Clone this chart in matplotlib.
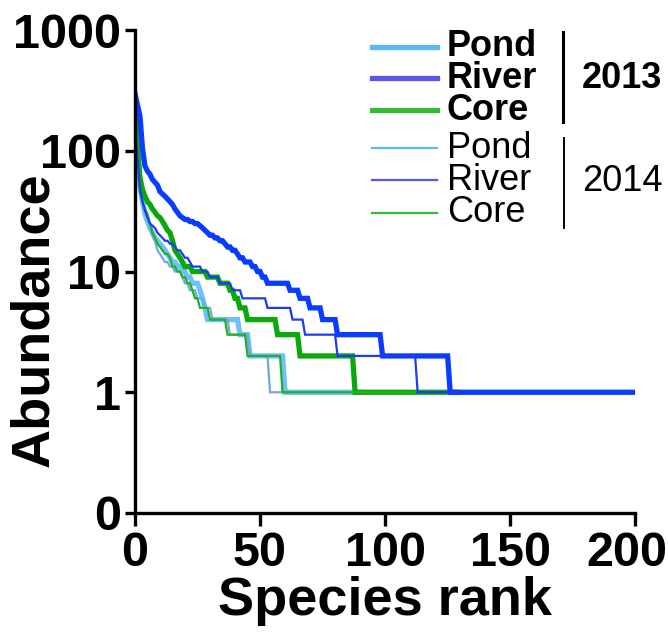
import numpy as np
import matplotlib.pyplot as plt
from matplotlib.lines import Line2D
from matplotlib.transforms import ScaledTranslation

plt.rcParams['font.family'] = ['Liberation Sans', 'DejaVu Sans']

# rank-abundance data: abundance levels and how many species share each level
pond13_abund = [180, 80, 50, 38, 30, 26, 23, 21, 19, 18, 17, 16, 15, 14, 13, 12, 11, 10, 9, 8, 7, 6, 5, 4, 3, 2, 1]
pond13_count = [1, 1, 1, 1, 1, 1, 1, 1, 1, 1, 1, 1, 1, 1, 1, 2, 2, 2, 2, 3, 1, 1, 1, 13, 4, 14, 31]

river13_abund = [300, 240, 195, 105, 75, 68, 64, 58, 55, 52, 46, 44, 42, 40, 38, 36, 33, 31, 29, 28,
                 27, 26, 25, 24, 23, 22, 21, 20, 19, 18, 17, 16, 15, 14, 13, 12, 11, 10, 9, 8, 7, 6, 5, 4, 3, 2, 1]
river13_count = [1] * 20 + [2, 2, 2, 1, 1, 1, 1, 2, 2, 2, 1, 2, 2, 1, 2, 3, 2, 2, 2, 9, 4, 4, 5, 6, 18, 27, 75]

core13_abund = [220, 110, 60, 48, 42, 38, 36, 33, 31, 29, 28, 26, 24, 22, 21, 18, 15, 14, 13, 12, 11, 10, 9, 8, 7, 6, 5, 4, 3, 2, 1]
core13_count = [1] * 20 + [3, 6, 5, 4, 2, 2, 3, 12, 9, 22, 42]

pond14_abund = [150, 70, 45, 38, 33, 30, 24, 20, 18, 15, 14, 13, 12, 11, 10, 9, 8, 7, 6, 5, 4, 3, 2, 1]
pond14_count = [1, 1, 1, 1, 1, 1, 1, 1, 1, 1, 1, 1, 2, 2, 3, 1, 2, 3, 3, 3, 7, 8, 8, 9]

river14_abund = [160, 90, 49, 38, 32, 28, 25, 24, 23, 21, 20, 19, 18, 17, 16, 15, 14, 13, 12, 11, 10, 9, 8, 7, 6, 5, 4, 3, 2, 1]
river14_count = [1, 1, 1, 1, 1, 1, 1, 1, 1, 1, 1, 1, 2, 2, 1, 2, 1, 2, 1, 4, 3, 4, 5, 4, 10, 10, 5, 13, 32, 17]

core14_abund = [200, 90, 46, 38, 33, 30, 25, 21, 19, 17, 16, 15, 14, 13, 11, 10, 9, 8, 7, 6, 5, 4, 3, 2, 1]
core14_count = [1, 1, 1, 1, 1, 1, 1, 1, 1, 1, 1, 1, 2, 1, 2, 2, 2, 2, 1, 2, 4, 7, 8, 14, 54]

yticks = [0.1, 1, 10, 100, 1000]
ytick_labels = ['0', '1', '10', '100', '1000']
xticks = [0, 50, 100, 150, 200]


def curve(abund, count):
    a = np.repeat(abund, count)
    return np.arange(len(a)), a


fig = plt.figure(figsize=(6.68, 6.42), dpi=100)
ax = fig.add_axes([0.202, 0.201, 0.749, 0.752])

# thick = 2013, thin = 2014
series = [
    (pond13_abund, pond13_count, '#6ec0ff', 3.8),
    (core13_abund, core13_count, '#0aa80a', 3.8),
    (river13_abund, river13_count, '#0a3cff', 3.8),
    (pond14_abund, pond14_count, '#70a8e4', 1.6),
    (core14_abund, core14_count, '#1eb41e', 1.6),
    (river14_abund, river14_count, '#1a3cf5', 1.6),
]
for abund, count, col, lw in series:
    x, y = curve(abund, count)
    ax.plot(x, y, color=col, lw=lw, solid_joinstyle='miter')

ax.set_yscale('log')
ax.set_ylim(0.1, 1000)
ax.set_xlim(0, 200)
ax.set_yticks(yticks)
ax.set_yticklabels(ytick_labels)
ax.yaxis.set_minor_locator(plt.NullLocator())
ax.set_xticks(xticks)

for s in ['top', 'right']:
    ax.spines[s].set_visible(False)
for s in ['left', 'bottom']:
    ax.spines[s].set_linewidth(2.4)
ax.tick_params(axis='y', width=2.4, length=7, labelsize=35, pad=3)
ax.tick_params(axis='x', width=2.4, length=9, labelsize=35, pad=4)
for lab in ax.get_xticklabels() + ax.get_yticklabels():
    lab.set_fontweight('bold')

# nudge the last x label in so it stays inside the figure
last = ax.get_xticklabels()[-1]
last.set_transform(last.get_transform() + ScaledTranslation(-6 / 72, 0, fig.dpi_scale_trans))

ax.set_xlabel('Species rank', fontsize=39, fontweight='bold', labelpad=0)
ax.set_ylabel('Abundance', fontsize=39, fontweight='bold')
ax.yaxis.set_label_coords(-0.152, 0.40)

# legend drawn by hand so the year brackets can sit beside it
W, H = 668, 642
leg_names = ['Pond', 'River', 'Core']
leg_colors = ['#5bb8f8', '#5a55ee', '#33bb33']
rows13 = [47, 78, 110]
rows14 = [148, 180, 213]
for rows, lw, weight in [(rows13, 3.8, 'bold'), (rows14, 1.6, 'normal')]:
    for name, col, yp in zip(leg_names, leg_colors, rows):
        fig.add_artist(Line2D([372 / W, 437 / W], [1 - yp / H, 1 - yp / H], color=col, lw=lw))
        fig.text(447 / W, 1 - yp / H, name, fontsize=26, fontweight=weight, va='center', ha='left')

fig.add_artist(Line2D([563 / W, 563 / W], [1 - 32 / H, 1 - 122 / H], color='black', lw=2.2))
fig.add_artist(Line2D([564 / W, 564 / W], [1 - 138 / H, 1 - 228 / H], color='black', lw=1.4))
fig.text(582 / W, 1 - 78 / H, '2013', fontsize=26, fontweight='bold', va='center', ha='left')
fig.text(582 / W, 1 - 182 / H, '2014', fontsize=26, va='center', ha='left')

fig.savefig('out.png', dpi=100)
